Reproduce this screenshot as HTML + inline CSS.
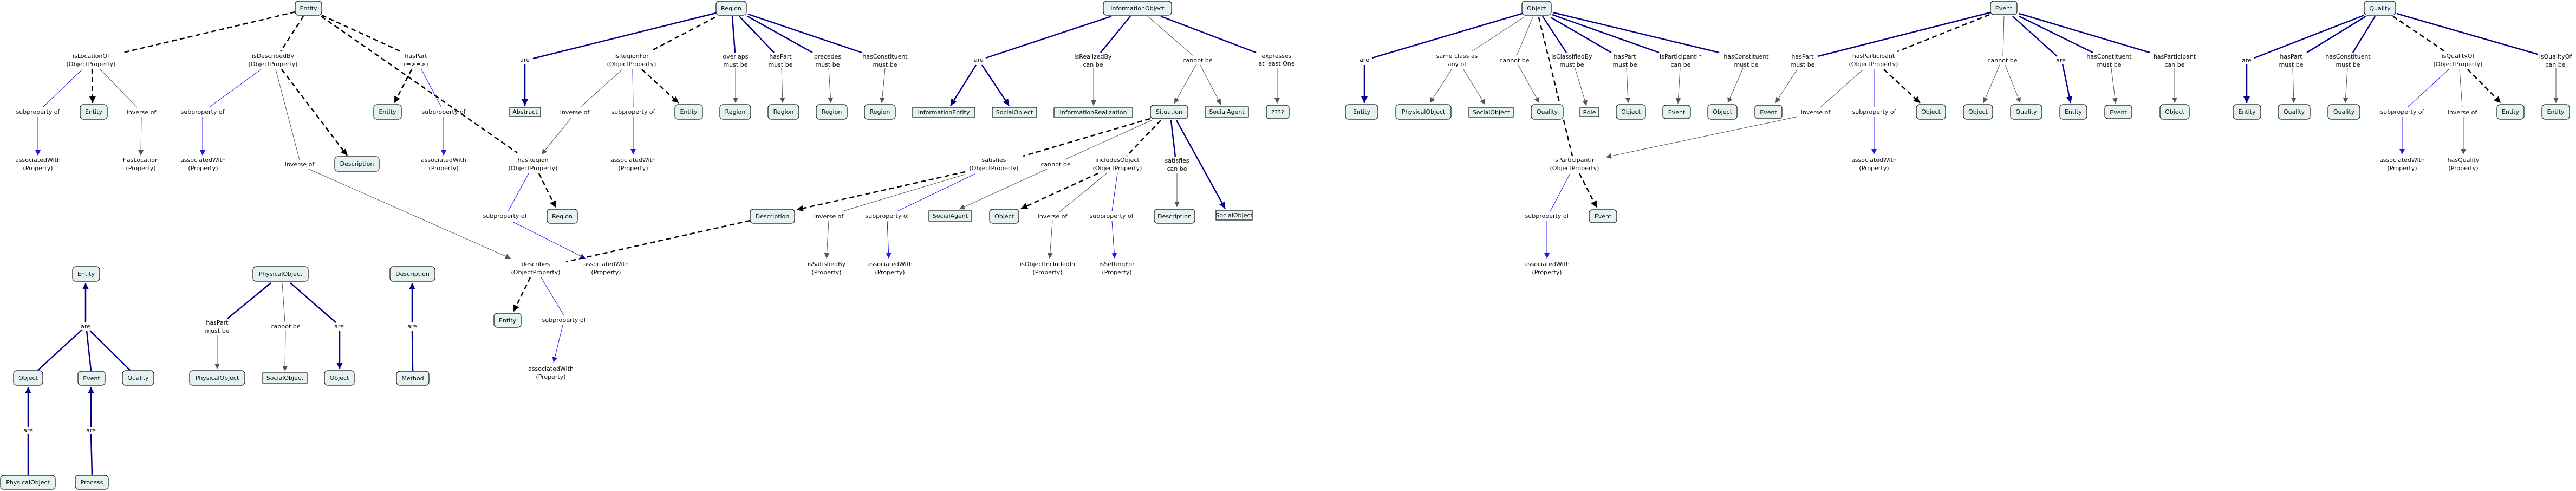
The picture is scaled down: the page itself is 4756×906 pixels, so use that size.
<!DOCTYPE html>
<html><head><meta charset="utf-8">
<style>
html,body{margin:0;padding:0;background:#fff;}
svg{display:block;}
text{font-family:"DejaVu Sans","Liberation Sans",sans-serif;font-size:11px;fill:#111;text-anchor:middle;}
.n{fill:#e6f2f1;stroke:#111;stroke-width:1.2;}
.bt{stroke:#00008b;stroke-width:2.5;fill:none;}
.bn{stroke:#1a1aee;stroke-width:1;fill:none;}
.g{stroke:#555;stroke-width:1;fill:none;}
.d{stroke:#000;stroke-width:2.5;fill:none;stroke-dasharray:9 6;}
</style></head><body>
<svg width="4756" height="906" viewBox="0 0 4756 906" xmlns="http://www.w3.org/2000/svg">
<defs>
<marker id="mb" markerUnits="userSpaceOnUse" markerWidth="12" markerHeight="12" refX="12" refY="6" orient="auto"><path d="M0,0 L12,6 L0,12 z" fill="#00008b"/></marker>
<marker id="ms" markerUnits="userSpaceOnUse" markerWidth="10" markerHeight="10" refX="10" refY="5" orient="auto"><path d="M0,0 L10,5 L0,10 z" fill="#1a1aee"/></marker>
<marker id="mg" markerUnits="userSpaceOnUse" markerWidth="10" markerHeight="10" refX="10" refY="5" orient="auto"><path d="M0,0 L10,5 L0,10 z" fill="#555"/></marker>
<marker id="md" markerUnits="userSpaceOnUse" markerWidth="12" markerHeight="12" refX="12" refY="6" orient="auto"><path d="M0,0 L12,6 L0,12 z" fill="#000"/></marker>
</defs>

<!-- ================= LINES ================= -->
<!-- Entity tree -->
<line class="d" x1="545" y1="22" x2="223" y2="98"/>
<line class="d" x1="560" y1="30" x2="518" y2="95"/>
<line class="d" x1="594" y1="28" x2="740" y2="95"/>
<line class="d" x1="593" y1="30" x2="955" y2="282"/>
<line class="bn" x1="152" y1="128" x2="79" y2="198"/>
<line class="d" x1="170" y1="128" x2="171" y2="190" marker-end="url(#md)"/>
<line class="g" x1="185" y1="128" x2="253" y2="198"/>
<line class="bn" x1="70" y1="216" x2="70" y2="287" marker-end="url(#ms)"/>
<line class="g" x1="261" y1="216" x2="260" y2="287" marker-end="url(#mg)"/>
<line class="bn" x1="482" y1="128" x2="386" y2="198"/>
<line class="g" x1="509" y1="128" x2="553" y2="295"/>
<line class="d" x1="520" y1="128" x2="641" y2="287" marker-end="url(#md)"/>
<line class="bn" x1="374" y1="216" x2="374" y2="287" marker-end="url(#ms)"/>
<line class="g" x1="570" y1="312" x2="943" y2="477" marker-end="url(#mg)"/>
<line class="d" x1="760" y1="128" x2="728" y2="190" marker-end="url(#md)"/>
<line class="bn" x1="778" y1="128" x2="815" y2="198"/>
<line class="bn" x1="819" y1="216" x2="819" y2="287" marker-end="url(#ms)"/>

<!-- bottom-left -->
<line class="bt" x1="70" y1="683" x2="152" y2="608"/>
<line class="bt" x1="168" y1="684" x2="160" y2="610"/>
<line class="bt" x1="240" y1="683" x2="166" y2="610"/>
<line class="bt" x1="158" y1="595" x2="158" y2="522" marker-end="url(#mb)"/>
<line class="bt" x1="52" y1="876" x2="52" y2="800"/>
<line class="bt" x1="52" y1="788" x2="52" y2="714" marker-end="url(#mb)"/>
<line class="bt" x1="170" y1="876" x2="168" y2="800"/>
<line class="bt" x1="168" y1="788" x2="168" y2="714" marker-end="url(#mb)"/>
<line class="bt" x1="500" y1="522" x2="420" y2="588"/>
<line class="g" x1="401" y1="618" x2="401" y2="681" marker-end="url(#mg)"/>
<line class="g" x1="521" y1="522" x2="526" y2="595"/>
<line class="g" x1="527" y1="610" x2="526" y2="685" marker-end="url(#mg)"/>
<line class="bt" x1="536" y1="522" x2="620" y2="595"/>
<line class="bt" x1="627" y1="610" x2="627" y2="681" marker-end="url(#mb)"/>
<line class="bt" x1="762" y1="684" x2="761" y2="610"/>
<line class="bt" x1="761" y1="595" x2="761" y2="522" marker-end="url(#mb)"/>

<!-- Region tree -->
<line class="bt" x1="1322" y1="24" x2="984" y2="108"/>
<line class="bt" x1="969" y1="118" x2="969" y2="195" marker-end="url(#mb)"/>
<line class="d" x1="1320" y1="32" x2="1200" y2="95"/>
<line class="bt" x1="1352" y1="30" x2="1357" y2="97"/>
<line class="bt" x1="1365" y1="30" x2="1429" y2="97"/>
<line class="bt" x1="1380" y1="30" x2="1500" y2="97"/>
<line class="bt" x1="1381" y1="26" x2="1591" y2="97"/>
<line class="g" x1="1358" y1="126" x2="1358" y2="190" marker-end="url(#mg)"/>
<line class="g" x1="1443" y1="126" x2="1445" y2="190" marker-end="url(#mg)"/>
<line class="g" x1="1530" y1="126" x2="1534" y2="190" marker-end="url(#mg)"/>
<line class="g" x1="1634" y1="126" x2="1628" y2="190" marker-end="url(#mg)"/>
<line class="g" x1="1149" y1="128" x2="1071" y2="198"/>
<line class="g" x1="1055" y1="217" x2="1000" y2="285" marker-end="url(#mg)"/>
<line class="bn" x1="1168" y1="128" x2="1169" y2="198"/>
<line class="bn" x1="1169" y1="216" x2="1169" y2="285" marker-end="url(#ms)"/>
<line class="d" x1="1185" y1="128" x2="1253" y2="190" marker-end="url(#md)"/>
<line class="bn" x1="976" y1="320" x2="938" y2="390"/>
<line class="d" x1="995" y1="320" x2="1026" y2="383" marker-end="url(#md)"/>
<line class="bn" x1="948" y1="410" x2="1081" y2="477" marker-end="url(#ms)"/>
<line class="d" x1="1385" y1="407" x2="1045" y2="483"/>
<line class="d" x1="979" y1="512" x2="948" y2="575" marker-end="url(#md)"/>
<line class="bn" x1="999" y1="512" x2="1041" y2="582"/>
<line class="bn" x1="1039" y1="600" x2="1022" y2="669" marker-end="url(#ms)"/>
<line class="g" x1="1530" y1="408" x2="1526" y2="477" marker-end="url(#mg)"/>
<line class="bn" x1="1638" y1="407" x2="1641" y2="477" marker-end="url(#ms)"/>

<!-- InformationObject tree -->
<line class="bt" x1="2052" y1="30" x2="1820" y2="107"/>
<line class="bt" x1="1802" y1="120" x2="1755" y2="195" marker-end="url(#mb)"/>
<line class="bt" x1="1813" y1="120" x2="1863" y2="195" marker-end="url(#mb)"/>
<line class="bt" x1="2087" y1="30" x2="2032" y2="97"/>
<line class="g" x1="2019" y1="126" x2="2019" y2="195" marker-end="url(#mg)"/>
<line class="g" x1="2119" y1="30" x2="2203" y2="103"/>
<line class="g" x1="2208" y1="120" x2="2168" y2="191" marker-end="url(#mg)"/>
<line class="g" x1="2216" y1="120" x2="2254" y2="193" marker-end="url(#mg)"/>
<line class="bt" x1="2143" y1="30" x2="2319" y2="97"/>
<line class="g" x1="2358" y1="125" x2="2358" y2="191" marker-end="url(#mg)"/>
<line class="d" x1="2123" y1="219" x2="1889" y2="288"/>
<line class="g" x1="2126" y1="222" x2="1967" y2="294"/>
<line class="g" x1="1933" y1="312" x2="1771" y2="386" marker-end="url(#mg)"/>
<line class="d" x1="2143" y1="222" x2="2080" y2="288"/>
<line class="d" x1="2027" y1="320" x2="1885" y2="385" marker-end="url(#md)"/>
<line class="bt" x1="2162" y1="222" x2="2170" y2="290"/>
<line class="g" x1="2173" y1="320" x2="2173" y2="382" marker-end="url(#mg)"/>
<line class="bt" x1="2172" y1="222" x2="2262" y2="385" marker-end="url(#mb)"/>
<line class="d" x1="1782" y1="317" x2="1471" y2="387" marker-end="url(#md)"/>
<line class="g" x1="1781" y1="322" x2="1555" y2="390"/>
<line class="bn" x1="1800" y1="321" x2="1656" y2="390"/>
<line class="g" x1="2043" y1="320" x2="1955" y2="392"/>
<line class="bn" x1="2063" y1="320" x2="2053" y2="390"/>
<line class="g" x1="1943" y1="408" x2="1938" y2="477" marker-end="url(#mg)"/>
<line class="bn" x1="2053" y1="408" x2="2058" y2="477" marker-end="url(#ms)"/>

<!-- Object tree -->
<line class="bt" x1="2810" y1="25" x2="2533" y2="107"/>
<line class="bt" x1="2519" y1="120" x2="2519" y2="190" marker-end="url(#mb)"/>
<line class="g" x1="2813" y1="32" x2="2717" y2="95"/>
<line class="g" x1="2680" y1="128" x2="2640" y2="190" marker-end="url(#mg)"/>
<line class="g" x1="2702" y1="128" x2="2742" y2="193" marker-end="url(#mg)"/>
<line class="g" x1="2830" y1="32" x2="2800" y2="103"/>
<line class="g" x1="2803" y1="120" x2="2842" y2="190" marker-end="url(#mg)"/>
<line class="d" x1="2841" y1="32" x2="2903" y2="288"/>
<line class="bt" x1="2848" y1="30" x2="2892" y2="97"/>
<line class="g" x1="2908" y1="126" x2="2929" y2="195" marker-end="url(#mg)"/>
<line class="bt" x1="2863" y1="32" x2="2975" y2="97"/>
<line class="g" x1="3003" y1="126" x2="3006" y2="190" marker-end="url(#mg)"/>
<line class="bt" x1="2866" y1="27" x2="3063" y2="97"/>
<line class="g" x1="3102" y1="126" x2="3098" y2="191" marker-end="url(#mg)"/>
<line class="bt" x1="2867" y1="23" x2="3174" y2="97"/>
<line class="g" x1="3218" y1="126" x2="3190" y2="190" marker-end="url(#mg)"/>
<line class="g" x1="3320" y1="215" x2="2965" y2="290" marker-end="url(#mg)"/>
<line class="bn" x1="2899" y1="320" x2="2862" y2="390"/>
<line class="d" x1="2916" y1="320" x2="2948" y2="383" marker-end="url(#md)"/>
<line class="bn" x1="2856" y1="408" x2="2856" y2="477" marker-end="url(#ms)"/>

<!-- Event tree -->
<line class="bt" x1="3675" y1="23" x2="3356" y2="104"/>
<line class="g" x1="3318" y1="128" x2="3278" y2="190" marker-end="url(#mg)"/>
<line class="d" x1="3673" y1="27" x2="3503" y2="95"/>
<line class="g" x1="3440" y1="128" x2="3361" y2="198"/>
<line class="bn" x1="3460" y1="128" x2="3460" y2="198"/>
<line class="bn" x1="3460" y1="216" x2="3460" y2="285" marker-end="url(#ms)"/>
<line class="d" x1="3478" y1="128" x2="3545" y2="190" marker-end="url(#md)"/>
<line class="g" x1="3700" y1="30" x2="3698" y2="103"/>
<line class="g" x1="3692" y1="120" x2="3662" y2="190" marker-end="url(#mg)"/>
<line class="g" x1="3702" y1="120" x2="3730" y2="190" marker-end="url(#mg)"/>
<line class="bt" x1="3716" y1="30" x2="3798" y2="104"/>
<line class="bt" x1="3808" y1="118" x2="3823" y2="190" marker-end="url(#mb)"/>
<line class="bt" x1="3728" y1="30" x2="3864" y2="97"/>
<line class="g" x1="3898" y1="126" x2="3906" y2="191" marker-end="url(#mg)"/>
<line class="bt" x1="3728" y1="25" x2="3969" y2="97"/>
<line class="g" x1="4015" y1="126" x2="4015" y2="190" marker-end="url(#mg)"/>

<!-- Quality tree -->
<line class="bt" x1="4365" y1="28" x2="4162" y2="107"/>
<line class="bt" x1="4148" y1="118" x2="4148" y2="190" marker-end="url(#mb)"/>
<line class="bt" x1="4368" y1="30" x2="4259" y2="97"/>
<line class="g" x1="4233" y1="126" x2="4235" y2="190" marker-end="url(#mg)"/>
<line class="bt" x1="4385" y1="30" x2="4344" y2="97"/>
<line class="g" x1="4334" y1="126" x2="4330" y2="190" marker-end="url(#mg)"/>
<line class="d" x1="4418" y1="30" x2="4514" y2="95"/>
<line class="bt" x1="4425" y1="25" x2="4685" y2="100"/>
<line class="g" x1="4719" y1="126" x2="4719" y2="190" marker-end="url(#mg)"/>
<line class="bn" x1="4521" y1="128" x2="4445" y2="198"/>
<line class="bn" x1="4435" y1="216" x2="4435" y2="285" marker-end="url(#ms)"/>
<line class="g" x1="4541" y1="128" x2="4546" y2="198"/>
<line class="g" x1="4548" y1="216" x2="4548" y2="285" marker-end="url(#mg)"/>
<line class="d" x1="4556" y1="128" x2="4617" y2="190" marker-end="url(#md)"/>

<!-- ================= NODES ================= -->
<g>
<rect class="n" x="545" y="2" width="49" height="26" rx="6"/><text x="569.5" y="19">Entity</text>
<rect class="n" x="148" y="193" width="50" height="27" rx="6"/><text x="173" y="210">Entity</text>
<rect class="n" x="690" y="193" width="51" height="27" rx="6"/><text x="715.5" y="210">Entity</text>
<rect class="n" x="618" y="289" width="82" height="27" rx="6"/><text x="659" y="306">Description</text>
<rect class="n" x="134" y="492" width="50" height="27" rx="6"/><text x="159" y="509">Entity</text>
<rect class="n" x="25" y="684" width="54" height="27" rx="6"/><text x="52" y="701">Object</text>
<rect class="n" x="144" y="685" width="50" height="26" rx="6"/><text x="169" y="702">Event</text>
<rect class="n" x="226" y="684" width="58" height="27" rx="6"/><text x="255" y="701">Quality</text>
<rect class="n" x="1" y="877" width="101" height="26" rx="6"/><text x="51.5" y="894">PhysicalObject</text>
<rect class="n" x="139" y="877" width="61" height="26" rx="6"/><text x="169.5" y="894">Process</text>
<rect class="n" x="467" y="492" width="102" height="27" rx="6"/><text x="518" y="509">PhysicalObject</text>
<rect class="n" x="350" y="684" width="102" height="27" rx="6"/><text x="401" y="701">PhysicalObject</text>
<rect class="n" x="485" y="688" width="82" height="19"/><text x="526" y="701">SocialObject</text>
<rect class="n" x="599" y="684" width="55" height="27" rx="6"/><text x="626.5" y="701">Object</text>
<rect class="n" x="720" y="492" width="83" height="27" rx="6"/><text x="761.5" y="509">Description</text>
<rect class="n" x="732" y="685" width="60" height="26" rx="6"/><text x="762" y="702">Method</text>

<rect class="n" x="1322" y="2" width="56" height="26" rx="6"/><text x="1350" y="19">Region</text>
<rect class="n" x="941" y="198" width="57" height="17"/><text x="969.5" y="210">Abstract</text>
<rect class="n" x="1246" y="193" width="51" height="27" rx="6"/><text x="1271.5" y="210">Entity</text>
<rect class="n" x="1329" y="193" width="57" height="27" rx="6"/><text x="1357.5" y="210">Region</text>
<rect class="n" x="1418" y="193" width="57" height="27" rx="6"/><text x="1446.5" y="210">Region</text>
<rect class="n" x="1507" y="193" width="57" height="27" rx="6"/><text x="1535.5" y="210">Region</text>
<rect class="n" x="1596" y="193" width="57" height="27" rx="6"/><text x="1624.5" y="210">Region</text>
<rect class="n" x="1010" y="386" width="56" height="26" rx="6"/><text x="1038" y="403">Region</text>
<rect class="n" x="1385" y="386" width="82" height="26" rx="6"/><text x="1426" y="403">Description</text>
<rect class="n" x="912" y="578" width="50" height="26" rx="6"/><text x="937" y="595">Entity</text>

<rect class="n" x="2037" y="2" width="126" height="26" rx="6"/><text x="2100" y="19">InformationObject</text>
<rect class="n" x="1685" y="198" width="115" height="18"/><text x="1742.5" y="211">InformationEntity</text>
<rect class="n" x="1832" y="198" width="82" height="18"/><text x="1873" y="211">SocialObject</text>
<rect class="n" x="1946" y="199" width="145" height="17"/><text x="2018.5" y="211">InformationRealization</text>
<rect class="n" x="2124" y="194" width="69" height="25" rx="6"/><text x="2158.5" y="210">Situation</text>
<rect class="n" x="2225" y="197" width="80" height="19"/><text x="2265" y="210">SocialAgent</text>
<rect class="n" x="2338" y="194" width="42" height="25" rx="6"/><text x="2359" y="211">????</text>
<rect class="n" x="1715" y="389" width="79" height="19"/><text x="1754.5" y="402">SocialAgent</text>
<rect class="n" x="1827" y="386" width="54" height="26" rx="6"/><text x="1854" y="403">Object</text>
<rect class="n" x="2131" y="386" width="75" height="26" rx="6"/><text x="2168.5" y="403">Description</text>
<rect class="n" x="2245" y="388" width="67" height="18"/><text x="2278.5" y="401">SocialObject</text>

<rect class="n" x="2810" y="2" width="54" height="26" rx="6"/><text x="2837" y="19">Object</text>
<rect class="n" x="2484" y="193" width="60" height="27" rx="6"/><text x="2514" y="210">Entity</text>
<rect class="n" x="2577" y="193" width="102" height="27" rx="6"/><text x="2628" y="210">PhysicalObject</text>
<rect class="n" x="2712" y="198" width="82" height="18"/><text x="2753" y="211">SocialObject</text>
<rect class="n" x="2827" y="193" width="59" height="27" rx="6"/><text x="2856.5" y="210">Quality</text>
<rect class="n" x="2917" y="199" width="35" height="16"/><text x="2934.5" y="211">Role</text>
<rect class="n" x="2984" y="193" width="54" height="27" rx="6"/><text x="3011" y="210">Object</text>
<rect class="n" x="3070" y="194" width="51" height="25" rx="6"/><text x="3095.5" y="211">Event</text>
<rect class="n" x="3153" y="193" width="54" height="27" rx="6"/><text x="3180" y="210">Object</text>
<rect class="n" x="3240" y="194" width="50" height="25" rx="6"/><text x="3265" y="211">Event</text>
<rect class="n" x="2934" y="387" width="51" height="24" rx="6"/><text x="2959.5" y="403">Event</text>

<rect class="n" x="3675" y="2" width="49" height="25" rx="6"/><text x="3699.5" y="19">Event</text>
<rect class="n" x="3538" y="193" width="54" height="27" rx="6"/><text x="3565" y="210">Object</text>
<rect class="n" x="3625" y="193" width="54" height="27" rx="6"/><text x="3652" y="210">Object</text>
<rect class="n" x="3712" y="193" width="58" height="27" rx="6"/><text x="3741" y="210">Quality</text>
<rect class="n" x="3803" y="193" width="50" height="27" rx="6"/><text x="3828" y="210">Entity</text>
<rect class="n" x="3886" y="194" width="50" height="25" rx="6"/><text x="3911" y="211">Event</text>
<rect class="n" x="3988" y="193" width="54" height="27" rx="6"/><text x="4015" y="210">Object</text>

<rect class="n" x="4365" y="2" width="58" height="26" rx="6"/><text x="4394" y="19">Quality</text>
<rect class="n" x="4123" y="193" width="51" height="27" rx="6"/><text x="4148.5" y="210">Entity</text>
<rect class="n" x="4206" y="193" width="59" height="27" rx="6"/><text x="4235.5" y="210">Quality</text>
<rect class="n" x="4298" y="193" width="59" height="27" rx="6"/><text x="4327.5" y="210">Quality</text>
<rect class="n" x="4610" y="193" width="50" height="27" rx="6"/><text x="4635" y="210">Entity</text>
<rect class="n" x="4693" y="193" width="51" height="27" rx="6"/><text x="4718.5" y="210">Entity</text>
</g>

<!-- ================= LABELS ================= -->
<g>
<text x="168" y="107">isLocationOf</text><text x="168" y="122">(ObjectProperty)</text>
<text x="504" y="107">isDescribedBy</text><text x="504" y="122">(ObjectProperty)</text>
<text x="768" y="107">hasPart</text><text x="768" y="122">(=&gt;=&gt;)</text>
<text x="70" y="210">subproperty of</text>
<text x="261" y="211">inverse of</text>
<text x="374" y="210">subproperty of</text>
<text x="819" y="210">subproperty of</text>
<text x="70" y="299">associatedWith</text><text x="70" y="314">(Property)</text>
<text x="260" y="299">hasLocation</text><text x="260" y="314">(Property)</text>
<text x="375" y="299">associatedWith</text><text x="375" y="314">(Property)</text>
<text x="819" y="299">associatedWith</text><text x="819" y="314">(Property)</text>
<text x="553" y="307">inverse of</text>
<text x="158" y="606">are</text>
<text x="52" y="798">are</text>
<text x="168" y="798">are</text>
<text x="401" y="599">hasPart</text><text x="401" y="614">must be</text>
<text x="527" y="606">cannot be</text>
<text x="626" y="606">are</text>
<text x="761" y="606">are</text>

<text x="969" y="114">are</text>
<text x="1166" y="107">isRegionFor</text><text x="1166" y="122">(ObjectProperty)</text>
<text x="1358" y="108">overlaps</text><text x="1358" y="123">must be</text>
<text x="1441" y="108">hasPart</text><text x="1441" y="123">must be</text>
<text x="1528" y="108">precedes</text><text x="1528" y="123">must be</text>
<text x="1634" y="108">hasConstituent</text><text x="1634" y="123">must be</text>
<text x="1061" y="211">inverse of</text>
<text x="1169" y="210">subproperty of</text>
<text x="984" y="299">hasRegion</text><text x="984" y="314">(ObjectProperty)</text>
<text x="1169" y="299">associatedWith</text><text x="1169" y="314">(Property)</text>
<text x="932" y="402">subproperty of</text>
<text x="989" y="491">describes</text><text x="989" y="506">(ObjectProperty)</text>
<text x="1119" y="491">associatedWith</text><text x="1119" y="506">(Property)</text>
<text x="1041" y="594">subproperty of</text>
<text x="1017" y="684">associatedWith</text><text x="1017" y="699">(Property)</text>
<text x="1530" y="403">inverse of</text>
<text x="1638" y="402">subproperty of</text>
<text x="1526" y="491">isSatisfiedBy</text><text x="1526" y="506">(Property)</text>
<text x="1643" y="491">associatedWith</text><text x="1643" y="506">(Property)</text>

<text x="1807" y="114">are</text>
<text x="2018" y="108">isRealizedBy</text><text x="2018" y="123">can be</text>
<text x="2211" y="115">cannot be</text>
<text x="2357" y="107">expresses</text><text x="2357" y="121">at least One</text>
<text x="1835" y="299">satisfies</text><text x="1835" y="314">(ObjectProperty)</text>
<text x="1949" y="307">cannot be</text>
<text x="2063" y="299">includesObject</text><text x="2063" y="314">(ObjectProperty)</text>
<text x="2173" y="300">satisfies</text><text x="2173" y="315">can be</text>
<text x="1943" y="403">inverse of</text>
<text x="2052" y="402">subproperty of</text>
<text x="1934" y="491">isObjectIncludedIn</text><text x="1934" y="506">(Property)</text>
<text x="2062" y="491">isSettingFor</text><text x="2062" y="506">(Property)</text>

<text x="2519" y="114">are</text>
<text x="2690" y="107">same class as</text><text x="2690" y="122">any of</text>
<text x="2796" y="115">cannot be</text>
<text x="2902" y="108">isClassifiedBy</text><text x="2902" y="123">must be</text>
<text x="3000" y="108">hasPart</text><text x="3000" y="123">must be</text>
<text x="3103" y="108">isParticipantIn</text><text x="3103" y="123">can be</text>
<text x="3224" y="108">hasConstituent</text><text x="3224" y="123">must be</text>
<text x="2907" y="299">isParticipantIn</text><text x="2907" y="314">(ObjectProperty)</text>
<text x="2856" y="402">subproperty of</text>
<text x="2856" y="491">associatedWith</text><text x="2856" y="506">(Property)</text>

<text x="3328" y="108">hasPart</text><text x="3328" y="123">must be</text>
<text x="3459" y="107">hasParticipant</text><text x="3459" y="122">(ObjectProperty)</text>
<text x="3697" y="115">cannot be</text>
<text x="3805" y="115">are</text>
<text x="3894" y="108">hasConstituent</text><text x="3894" y="123">must be</text>
<text x="4015" y="108">hasParticipant</text><text x="4015" y="123">can be</text>
<text x="3352" y="211">inverse of</text>
<text x="3460" y="210">subproperty of</text>
<text x="3460" y="299">associatedWith</text><text x="3460" y="314">(Property)</text>

<text x="4148" y="115">are</text>
<text x="4230" y="108">hasPart</text><text x="4230" y="123">must be</text>
<text x="4335" y="108">hasConstituent</text><text x="4335" y="123">must be</text>
<text x="4538" y="107">isQualityOf</text><text x="4538" y="122">(ObjectProperty)</text>
<text x="4718" y="108">isQualityOf</text><text x="4718" y="123">can be</text>
<text x="4435" y="210">subproperty of</text>
<text x="4546" y="211">inverse of</text>
<text x="4435" y="299">associatedWith</text><text x="4435" y="314">(Property)</text>
<text x="4548" y="299">hasQuality</text><text x="4548" y="314">(Property)</text>
</g>
</svg>
</body></html>
